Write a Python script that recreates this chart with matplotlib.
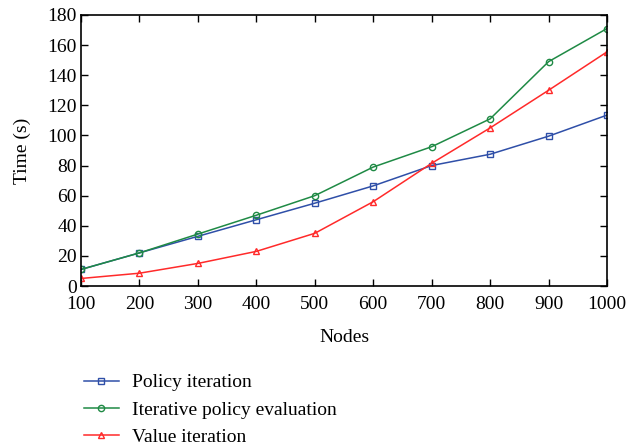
import numpy as np
import matplotlib.pyplot as plt

nodes = [100, 200, 300, 400, 500, 600, 700, 800, 900, 1000]
policy_iter = [11, 22, 33, 44, 55, 66.5, 80, 87.5, 99.5, 113.5]
iter_policy_eval = [11, 22, 34.5, 47, 60, 79, 92.5, 111, 149, 171]
value_iter = [5, 8.5, 15, 23, 35, 56, 81.5, 105, 130, 155.5]

plt.rcParams['font.family'] = ['Liberation Serif', 'DejaVu Serif']

fig = plt.figure(figsize=(6.41, 4.48), dpi=100)
ax = fig.add_axes([0.1264, 0.3616, 0.8206, 0.605])

ax.plot(nodes, policy_iter, color='#2f4fa8', marker='s', ms=4, mfc='none', mew=1, lw=1.1, label='Policy iteration')
ax.plot(nodes, iter_policy_eval, color='#1f8a45', marker='o', ms=4.5, mfc='none', mew=1, lw=1.1, label='Iterative policy evaluation')
ax.plot(nodes, value_iter, color='#ff2a2a', marker='^', ms=5, mfc='none', mew=1, lw=1.1, label='Value iteration')

ax.set_xlim(100, 1000)
ax.set_ylim(0, 180)
ax.set_xticks(nodes)
ax.set_yticks(np.arange(0, 181, 20))
ax.tick_params(direction='in', top=True, right=True, labelsize=14, length=5, width=1, pad=3)
ax.tick_params(axis='x', pad=7)
for s in ax.spines.values():
    s.set_linewidth(1.2)
ax.set_xlabel('Nodes', fontsize=14, labelpad=12)
ax.set_ylabel('Time (s)', fontsize=14, labelpad=12)

ax.legend(loc='upper left', bbox_to_anchor=(-0.01, -0.295), frameon=False, fontsize=14,
          handlelength=1.8, labelspacing=0.5, handletextpad=0.7, borderaxespad=0)

fig.savefig('out.png', dpi=100)
